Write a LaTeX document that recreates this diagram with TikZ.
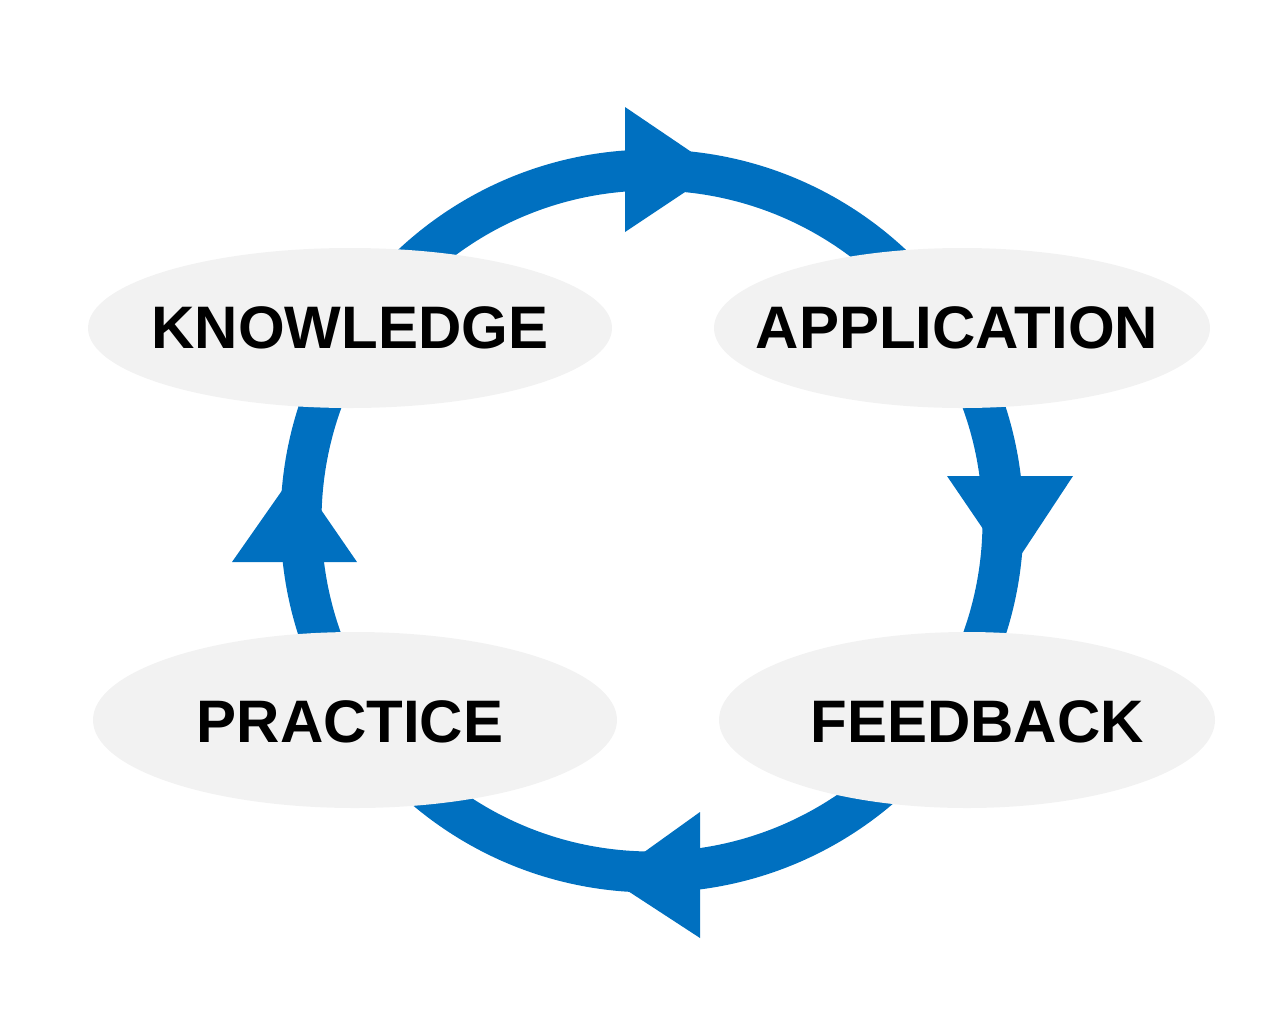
\documentclass[tikz,border=0pt]{standalone}
\usepackage{fontspec}
\setmainfont{Liberation Sans}
\begin{document}
\begin{tikzpicture}[x=1pt,y=-1pt,
  ring/.style={draw=ringblue,line width=41pt},
  head/.style={fill=ringblue},
  oval/.style={ellipse,fill=ovalgray,draw=none,inner sep=0pt},
  lbl/.style={font=\fontsize{60}{60}\selectfont\bfseries}]
\definecolor{ringblue}{HTML}{0070C0}
\definecolor{ovalgray}{HTML}{F2F2F2}
\useasboundingbox (0,0) rectangle (1279,1031);
\coordinate (c) at (652,521);
\draw[ring] (c) circle[radius=351];
\fill[head] (625,107) -- (625,232) -- (718,170) -- cycle;
\fill[head] (947,476) -- (1073,476) -- (1011,570) -- cycle;
\fill[head] (700,812) -- (700,938) -- (608,878) -- cycle;
\fill[head] (232,562) -- (357,562) -- (295,472) -- cycle;
\fill[ovalgray] (350,328) ellipse[x radius=262,y radius=80];
\fill[ovalgray] (962,328) ellipse[x radius=248,y radius=80];
\fill[ovalgray] (355,720) ellipse[x radius=262,y radius=88];
\fill[ovalgray] (967,720) ellipse[x radius=248,y radius=88];
\node[lbl] (k) at (350,328) {KNOWLEDGE};
\node[lbl] (a) at (957,328) {APPLICATION};
\node[lbl] (p) at (350,722) {PRACTICE};
\node[lbl] (f) at (977,722) {FEEDBACK};
\end{tikzpicture}
\end{document}
